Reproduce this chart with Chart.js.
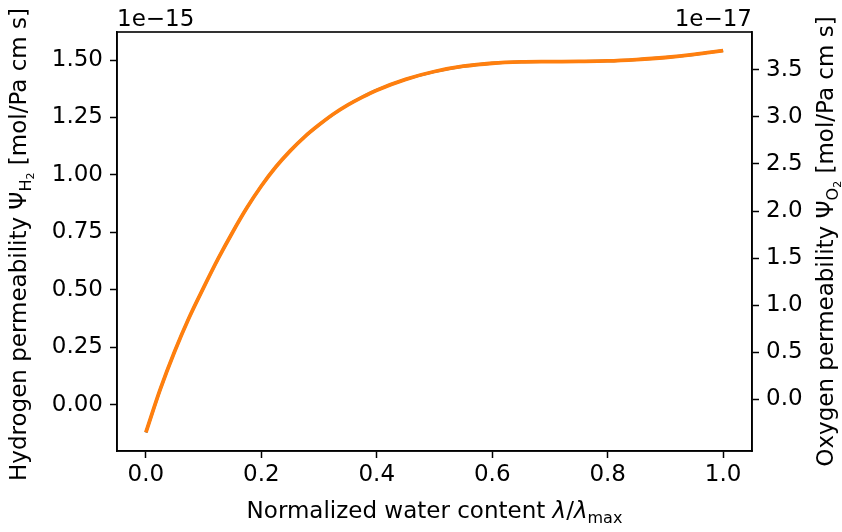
<!DOCTYPE html>
<html>
<head>
<meta charset="utf-8">
<script src="https://cdn.jsdelivr.net/npm/chart.js@4/dist/chart.umd.min.js"></script>
<style>
    html, body { margin: 0; padding: 0; background: #fff; }
    #chart { display: block; }
</style>
</head>
<body>
<canvas id="chart" width="842" height="532"></canvas>
<script>
// x: normalized water content, y values in units of the offset labels (1e-15 / 1e-17)
const waterContent = [0, 0.025, 0.05, 0.075, 0.1, 0.125, 0.15, 0.175, 0.2, 0.225, 0.25, 0.275, 0.3, 0.325, 0.35, 0.375, 0.4,
    0.45, 0.5, 0.55, 0.6, 0.65, 0.7, 0.75, 0.8, 0.85, 0.9, 0.95, 1.0];
const hydrogenPerm = [-0.12, 0.068, 0.233, 0.38, 0.51, 0.635, 0.75, 0.857, 0.952, 1.035, 1.105, 1.166, 1.218, 1.265, 1.305, 1.339, 1.369,
    1.416, 1.450, 1.473, 1.486, 1.492, 1.493, 1.494, 1.496, 1.502, 1.511, 1.524, 1.541];
const oxygenPerm = [-0.354, 0.106, 0.509, 0.868, 1.186, 1.491, 1.772, 2.034, 2.266, 2.468, 2.640, 2.789, 2.916, 3.031, 3.128, 3.211, 3.285,
    3.400, 3.483, 3.539, 3.571, 3.585, 3.588, 3.590, 3.595, 3.610, 3.632, 3.664, 3.705];

const xTicks = [0, 0.2, 0.4, 0.6, 0.8, 1.0];
const leftTicks = [0, 0.25, 0.5, 0.75, 1.0, 1.25, 1.5];
const rightTicks = [0, 0.5, 1.0, 1.5, 2.0, 2.5, 3.0, 3.5];
const leftOffset = '1e\u221215';
const rightOffset = '1e\u221217';

const FONT = 'DejaVu Sans';
const FS = 23;

function toPoints(xs, ys) {
    return xs.map((x, i) => ({ x: x, y: ys[i] }));
}

function fixTicks(list) {
    return (scale) => { scale.ticks = list.map(v => ({ value: v })); };
}

// text runs with sub/superscripts, measured then drawn left to right
function runsWidth(ctx, runs) {
    let w = 0;
    runs.forEach(r => {
        ctx.font = `${r.italic ? 'italic ' : ''}${r.size}px "${FONT}"`;
        w += ctx.measureText(r.text).width;
    });
    return w;
}

function drawRuns(ctx, runs, x, y) {
    runs.forEach(r => {
        ctx.font = `${r.italic ? 'italic ' : ''}${r.size}px "${FONT}"`;
        ctx.fillText(r.text, x, y + (r.dy || 0));
        x += ctx.measureText(r.text).width;
    });
}

const xLabelRuns = [
    { text: 'Normalized water content ', size: FS },
    { text: '\u03bb', size: FS, italic: true },
    { text: '/', size: FS },
    { text: '\u03bb', size: FS, italic: true },
    { text: 'max', size: 16, dy: 5 },
];
const leftLabelRuns = [
    { text: 'Hydrogen permeability \u03a8', size: FS },
    { text: 'H', size: 16, dy: 5 },
    { text: '2', size: 11, dy: 8 },
    { text: ' [mol/Pa cm s]', size: FS },
];
const rightLabelRuns = [
    { text: 'Oxygen permeability \u03a8', size: FS },
    { text: 'O', size: 16, dy: 5 },
    { text: '2', size: 11, dy: 8 },
    { text: ' [mol/Pa cm s]', size: FS },
];

const decorPlugin = {
    id: 'decor',
    afterDraw(chart) {
        const ctx = chart.ctx;
        const a = chart.chartArea;
        ctx.save();
        ctx.strokeStyle = '#000';
        ctx.lineWidth = 1.6;
        ctx.strokeRect(a.left, a.top, a.right - a.left, a.bottom - a.top);

        ctx.fillStyle = '#000';
        ctx.textBaseline = 'alphabetic';
        ctx.font = `${FS}px "${FONT}"`;
        ctx.textAlign = 'left';
        ctx.fillText(leftOffset, a.left, a.top - 6);
        ctx.textAlign = 'right';
        ctx.fillText(rightOffset, a.right, a.top - 6);
        ctx.textAlign = 'left';

        const cx = (a.left + a.right) / 2;
        const cy = (a.top + a.bottom) / 2;

        let w = runsWidth(ctx, xLabelRuns);
        drawRuns(ctx, xLabelRuns, cx - w / 2, 518);

        ctx.save();
        ctx.translate(26, cy + 3);
        ctx.rotate(-Math.PI / 2);
        w = runsWidth(ctx, leftLabelRuns);
        drawRuns(ctx, leftLabelRuns, -w / 2, 0);
        ctx.restore();

        ctx.save();
        ctx.translate(833, cy);
        ctx.rotate(-Math.PI / 2);
        w = runsWidth(ctx, rightLabelRuns);
        drawRuns(ctx, rightLabelRuns, -w / 2, 0);
        ctx.restore();

        ctx.restore();
    }
};

function axisGrid() {
    return {
        display: true,
        drawOnChartArea: false,
        drawTicks: true,
        tickLength: 7,
        tickWidth: 1.5,
        tickColor: '#000',
    };
}

const tickFont = { family: FONT, size: FS };

new Chart(document.getElementById('chart'), {
    type: 'line',
    data: {
        datasets: [
            {
                label: 'Oxygen',
                data: toPoints(waterContent, oxygenPerm),
                yAxisID: 'y2',
                borderColor: '#ff7f0e',
                borderWidth: 3.8,
                pointRadius: 0,
                fill: false,
                cubicInterpolationMode: 'monotone',
                order: 1,
            },
            {
                // sits exactly under the oxygen curve
                label: 'Hydrogen',
                data: toPoints(waterContent, hydrogenPerm),
                yAxisID: 'y',
                borderColor: '#1f77b4',
                borderWidth: 2.8,
                pointRadius: 0,
                fill: false,
                cubicInterpolationMode: 'monotone',
                order: 2,
            },
        ]
    },
    options: {
        responsive: false,
        animation: false,
        devicePixelRatio: 1,
        layout: { padding: { top: 32, left: 0, right: 0, bottom: 0 } },
        plugins: {
            legend: { display: false },
            tooltip: { enabled: false },
        },
        scales: {
            x: {
                type: 'linear',
                min: -0.05,
                max: 1.05,
                afterBuildTicks: fixTicks(xTicks),
                afterFit: (s) => { s.height = 81; },
                grid: axisGrid(),
                border: { display: true, color: '#000', width: 1.6 },
                ticks: {
                    color: '#000',
                    font: tickFont,
                    padding: 3,
                    maxRotation: 0,
                    callback: (v) => v.toFixed(1),
                },
            },
            y: {
                type: 'linear',
                position: 'left',
                min: -0.2007,
                max: 1.622,
                afterBuildTicks: fixTicks(leftTicks),
                afterFit: (s) => { s.width = 117; },
                grid: axisGrid(),
                border: { display: true, color: '#000', width: 1.6 },
                ticks: {
                    color: '#000',
                    font: tickFont,
                    padding: 7,
                    callback: (v) => v.toFixed(2),
                },
            },
            y2: {
                type: 'linear',
                position: 'right',
                min: -0.551,
                max: 3.903,
                afterBuildTicks: fixTicks(rightTicks),
                afterFit: (s) => { s.width = 90; },
                grid: axisGrid(),
                border: { display: true, color: '#000', width: 1.6 },
                ticks: {
                    color: '#000',
                    font: tickFont,
                    padding: 7,
                    callback: (v) => v.toFixed(1),
                },
            },
        },
    },
    plugins: [decorPlugin],
});
</script>
</body>
</html>
